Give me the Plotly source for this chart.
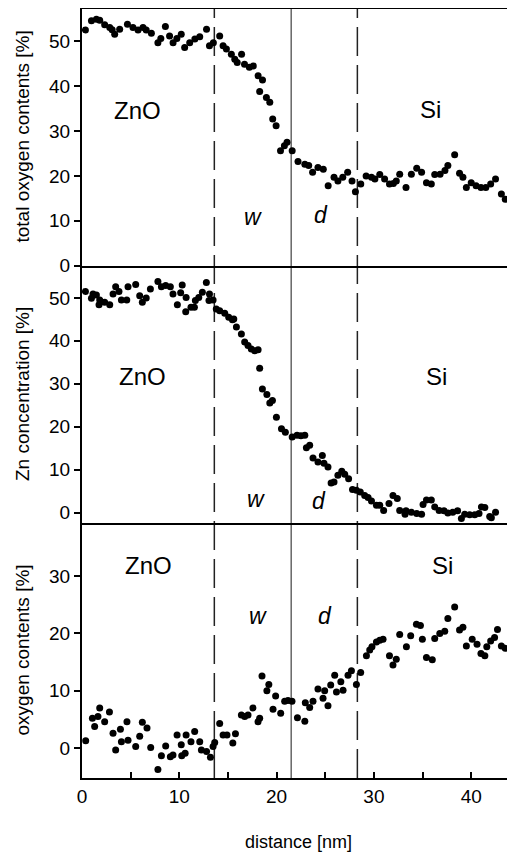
import plotly.graph_objects as go
from plotly.subplots import make_subplots

# ---- data ----
x_total = [0.35, 0.97, 1.48, 1.82, 2.33, 2.85, 3.10, 3.36, 3.87, 4.67, 5.24, 5.76, 6.27, 6.60, 7.13, 7.80,
           8.10, 8.57, 9.00, 9.36, 9.75, 10.20, 10.55, 11.07, 11.60, 12.10, 12.80, 13.10, 13.50, 14.15,
           14.50, 14.84, 15.35, 15.70, 15.95, 16.40, 16.70, 17.20, 17.60, 18.10, 18.26, 18.55, 18.95,
           19.30, 19.60, 19.95, 20.40, 20.80, 21.07, 21.60, 22.20, 22.90, 23.30, 23.70, 24.25, 24.80,
           25.30, 25.90, 26.30, 26.80, 27.30, 27.75, 28.10, 28.65, 29.20, 29.75, 30.10, 30.60, 31.10,
           31.60, 32.00, 32.30, 32.65, 33.30, 33.85, 34.40, 34.90, 35.40, 35.90, 36.25, 36.80, 37.30,
           37.60, 38.30, 38.80, 39.15, 39.50, 40.00, 40.50, 41.00, 41.50, 42.00, 42.50, 43.10, 43.50]
y_total = [52.5, 54.6, 54.9, 54.7, 53.7, 53.1, 52.6, 51.6, 52.7, 53.8, 53.1, 52.5, 53.1, 52.5, 51.8, 49.7,
           50.6, 53.3, 51.2, 49.7, 50.6, 51.6, 48.6, 49.7, 50.5, 51.0, 52.7, 49.0, 49.7, 51.2,
           49.0, 48.3, 47.1, 46.0, 45.3, 47.1, 44.9, 44.2, 44.5, 42.3, 38.8, 41.4, 37.5,
           36.4, 32.7, 31.2, 25.6, 26.7, 27.5, 25.6, 23.2, 22.6, 22.3, 20.8, 21.9, 21.5,
           17.8, 19.7, 18.9, 19.7, 20.8, 18.9, 16.5, 18.2, 20.0, 19.7, 19.3, 20.3, 19.3,
           18.2, 18.3, 18.9, 20.4, 17.4, 20.4, 21.7, 20.8, 18.5, 18.2, 20.3, 20.4, 21.2,
           22.3, 24.7, 20.6, 19.7, 17.4, 18.5, 17.8, 17.4, 17.4, 18.2, 19.3, 16.0, 14.8]

x_zn = [0.35, 0.97, 1.13, 1.48, 1.75, 1.82, 2.33, 2.85, 3.19, 3.46, 3.80, 4.05, 4.60, 4.73, 5.52, 5.93,
        6.20, 6.60, 7.03, 7.80, 8.16, 8.60, 9.08, 9.35, 9.80, 10.14, 10.30, 10.66, 10.70, 11.20, 11.55,
        11.65, 12.00, 12.37, 12.78, 13.05, 13.10, 13.47, 13.80, 14.15, 14.67, 15.08, 15.46, 15.60,
        15.87, 16.38, 16.72, 17.06, 17.40, 17.75, 18.10, 18.26, 18.54, 19.00, 19.30, 19.57, 19.98,
        20.50, 20.90, 21.60, 22.10, 22.50, 22.90, 23.06, 23.40, 23.74, 24.25, 24.70, 24.87, 25.28,
        25.60, 25.90, 26.30, 26.70, 27.00, 27.40, 27.80, 28.20, 28.60, 29.05, 29.40, 29.75, 30.26,
        30.60, 31.00, 31.55, 31.96, 32.40, 32.65, 33.20, 33.30, 33.85, 34.40, 34.90, 35.05, 35.40,
        35.90, 36.25, 36.70, 37.20, 37.60, 38.10, 38.60, 38.99, 39.33, 39.84, 40.36, 40.80, 41.05,
        41.40, 41.90, 42.07, 42.50]
y_zn = [51.5, 49.9, 50.9, 50.7, 48.4, 49.5, 49.0, 48.4, 50.9, 52.6, 51.5, 49.5, 49.5, 52.6, 53.1, 50.5,
        49.0, 50.0, 52.1, 53.8, 52.6, 52.9, 52.6, 50.9, 48.4, 51.2, 53.0, 46.8, 50.1, 47.8, 47.8,
        49.4, 50.1, 51.3, 53.6, 49.4, 50.9, 49.5, 47.4, 47.0, 46.4, 45.5, 44.9, 45.1,
        43.2, 41.6, 39.7, 38.9, 38.1, 37.7, 37.9, 33.6, 28.8, 27.5, 25.5, 26.1, 22.2,
        19.5, 18.7, 17.6, 18.0, 17.9, 18.0, 15.1, 15.7, 12.7, 11.8, 13.3, 11.5, 10.6,
        6.9, 7.1, 8.7, 9.6, 8.9, 7.9, 5.4, 5.2, 4.8, 4.0, 3.5, 2.7, 1.7,
        1.7, 0.5, 2.1, 4.0, 3.3, 0.5, -0.4, 0.4, 0.1, -0.2, -0.4, 1.9, 2.9,
        2.9, 1.3, 0.5, 0.4, -0.1, 0.1, 0.4, -1.4, -0.4, -0.5, -0.5, -0.2, 1.3,
        1.2, -0.9, -1.2, 0.1]

x_oxy = [0.38, 1.07, 1.30, 1.64, 1.82, 2.33, 2.82, 3.19, 3.46, 3.95, 4.05, 4.62, 4.73, 5.52, 5.93, 6.20,
         6.68, 7.06, 7.80, 8.16, 8.60, 9.08, 9.35, 9.77, 10.20, 10.25, 10.60, 10.70, 11.20, 11.58,
         12.10, 12.27, 12.80, 13.20, 13.47, 13.64, 14.15, 14.50, 14.90, 15.50, 15.77, 16.38, 16.72,
         17.06, 17.57, 18.09, 18.26, 18.50, 19.00, 19.20, 19.63, 19.90, 20.42, 20.83, 21.17, 21.58,
         22.14, 22.90, 22.95, 23.40, 23.74, 24.25, 24.77, 24.94, 25.28, 25.56, 25.97, 26.15, 26.60,
         26.83, 27.34, 27.69, 28.20, 28.64, 29.23, 29.57, 29.80, 30.26, 30.60, 30.94, 31.60, 31.96,
         32.30, 32.65, 33.34, 33.78, 34.37, 34.78, 34.98, 35.40, 36.00, 36.25, 36.77, 37.28, 37.60,
         38.30, 38.80, 39.15, 39.50, 40.10, 40.60, 41.00, 41.40, 41.60, 42.00, 42.40, 42.70, 43.10,
         43.50]
y_oxy = [1.3, 5.2, 3.8, 5.5, 7.0, 4.6, 6.3, 2.6, -0.3, 3.3, 1.1, 4.6, 1.4, 0.3, 2.1, 4.5,
         3.5, 0.1, -3.7, -1.3, 0.4, -1.5, -1.2, 2.3, 0.6, -1.3, -0.9, 2.3, 1.1, 2.9,
         1.1, -0.3, -0.6, -1.6, 0.3, 1.0, 4.3, 2.3, 2.3, 0.9, 2.5, 5.8, 5.5,
         5.8, 7.0, 4.6, 5.2, 12.6, 10.0, 11.1, 6.8, 9.1, 6.1, 8.2, 8.3, 8.2,
         5.3, 4.7, 7.9, 7.1, 8.2, 10.3, 8.7, 10.0, 7.4, 11.0, 12.7, 9.8, 11.6,
         10.1, 12.7, 13.5, 11.1, 13.2, 16.1, 17.1, 17.7, 18.5, 18.8, 19.0, 16.1, 14.5,
         15.5, 19.8, 17.7, 19.6, 21.6, 21.4, 19.0, 15.8, 15.4, 19.1, 20.0, 20.4, 22.6,
         24.6, 20.6, 21.1, 17.8, 19.0, 18.1, 16.5, 16.1, 17.7, 18.7, 19.3, 20.7, 17.8,
         17.4]

boundaries_dashed = [13.6, 28.3]
boundary_solid = [21.5]

y_titles = ["total oxygen contents [%]", "Zn concentration [%]", "oxygen contents [%]"]
x_ticks = [0, 5, 10, 15, 20, 25, 30, 35, 40]
x_ticktext = ["0", "", "10", "", "20", "", "30", "", "40"]

FONT = "Liberation Sans, Arial, sans-serif"

fig = make_subplots(rows=3, cols=1, shared_xaxes=True, vertical_spacing=0,
                    row_heights=[0.3338, 0.335, 0.3312])

marker = dict(color="black", size=7, line=dict(width=0))
for r, (xs, ys) in enumerate([(x_total, y_total), (x_zn, y_zn), (x_oxy, y_oxy)], start=1):
    fig.add_trace(go.Scatter(x=xs, y=ys, mode="markers", marker=marker,
                             showlegend=False, hoverinfo="skip"), row=r, col=1)

yranges = [[0, 57.2], [-2.5, 57.5], [-5.2, 39.2]]
yticks = [[0, 10, 20, 30, 40, 50], [0, 10, 20, 30, 40, 50], [0, 10, 20, 30]]
for r in range(1, 4):
    fig.update_yaxes(row=r, col=1, range=yranges[r - 1], tickvals=yticks[r - 1],
                     showgrid=False, zeroline=False, showline=True, linecolor="black",
                     linewidth=2, ticks="outside", ticklen=6, tickwidth=1.5,
                     tickcolor="black", tickfont=dict(family=FONT, size=19, color="black"))
    fig.update_xaxes(row=r, col=1, range=[0, 44.5], showgrid=False, zeroline=False,
                     showline=True, linecolor="black", linewidth=2,
                     mirror=(r == 1))
fig.update_xaxes(row=3, col=1, tickvals=x_ticks, ticktext=x_ticktext, ticks="inside",
                 ticklen=6, tickwidth=1.5, tickcolor="black",
                 tickfont=dict(family=FONT, size=19, color="black"),
                 title=dict(text="distance [nm]", font=dict(family=FONT, size=18, color="black"),
                            standoff=30))
fig.update_xaxes(row=1, col=1, ticks="", showticklabels=False)
fig.update_xaxes(row=2, col=1, ticks="", showticklabels=False)

# boundary lines spanning all panels
for xb in boundaries_dashed:
    fig.add_shape(type="line", xref="x3", yref="paper", x0=xb, x1=xb, y0=0, y1=1,
                  line=dict(color="#222222", width=1.5, dash="29px,9px"), layer="below")
for xb in boundary_solid:
    fig.add_shape(type="line", xref="x3", yref="paper", x0=xb, x1=xb, y0=0, y1=1,
                  line=dict(color="#666666", width=1.5), layer="below")

# region labels
labels = [
    ("y", [("ZnO", 5.73, 34.5, False), ("Si", 35.8, 34.7, False), ("w", 17.55, 10.9, True), ("d", 24.6, 11.4, True)]),
    ("y2", [("ZnO", 6.25, 31.6, False), ("Si", 36.45, 31.7, False), ("w", 17.85, 3.2, True), ("d", 24.4, 2.75, True)]),
    ("y3", [("ZnO", 6.86, 31.9, False), ("Si", 37.0, 31.9, False), ("w", 18.05, 23.1, True), ("d", 25.0, 23.0, True)]),
]
for yref, items in labels:
    for text, xv, yv, ital in items:
        fig.add_annotation(x=xv, y=yv, xref="x", yref=yref, text=(f"<i>{text}</i>" if ital else text),
                           showarrow=False, xanchor="center", yanchor="middle",
                           font=dict(family=FONT, size=(23 if ital else 24), color="black"))

# page offset of the plot (body margin) is 8 px; plot area spans page y 9..778
ycenters = [(1 - (136.5 - 9) / 769), (1 - (394 - 9) / 769), (1 - (650.5 - 9) / 769)]
for t, yc in zip(y_titles, ycenters):
    fig.add_annotation(text=t, xref="paper", yref="paper", x=(22 - 82) / 433, y=yc,
                       textangle=-90, showarrow=False, xanchor="center", yanchor="middle",
                       font=dict(family=FONT, size=19, color="black"))

fig.update_layout(width=507, height=844, margin=dict(l=74, r=0, t=1, b=74),
                  plot_bgcolor="white", paper_bgcolor="white")

fig.write_html("out.html")
